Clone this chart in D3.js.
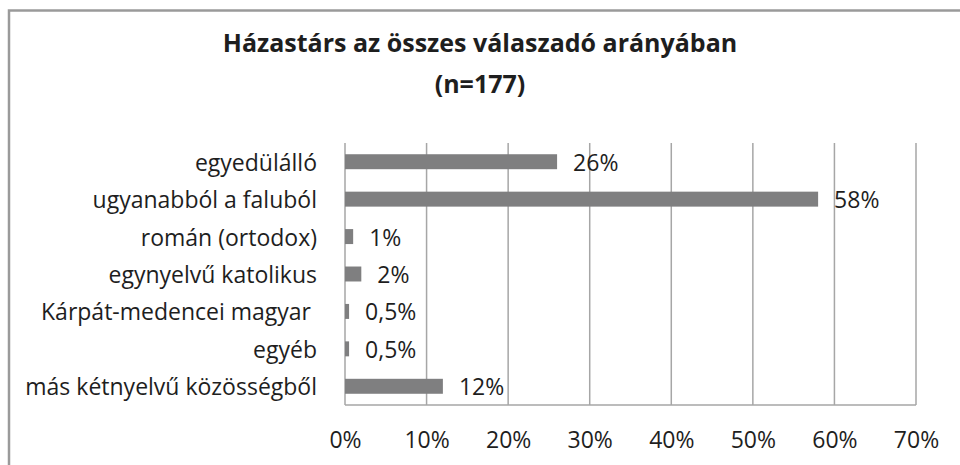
<!DOCTYPE html>
<html><head><meta charset="utf-8">
<script src="https://cdn.jsdelivr.net/npm/d3@7"></script>
<style>
body{margin:0;background:#fff;}
text{font-family:"Open Sans",sans-serif;fill:#1e1e1e;}
</style></head>
<body>
<svg id="c" width="960" height="465"></svg>
<script>
const categories = ["egyedülálló","ugyanabból a faluból","román (ortodox)","egynyelvű katolikus","Kárpát-medencei magyar\u00a0","egyéb","más kétnyelvű közösségből"];
const values = [26, 58, 1, 2, 0.5, 0.5, 12];
const valueLabels = ["26%","58%","1%","2%","0,5%","0,5%","12%"];
const tickValues = [0,10,20,30,40,50,60,70];
const titleLines = ["Házastárs az összes válaszadó arányában","(n=177)"];

(function(){
const svg = d3.select("#c");
svg.append("rect").attr("x",9).attr("y",10.5).attr("width",1000).attr("height",1000)
  .attr("fill","none").attr("stroke","#9a9a9a").attr("stroke-width",2.5);

const pL=345, pR=916, pT=143, pB=405;
const x = d3.scaleLinear().domain([0,70]).range([pL,pR]);
const y = d3.scaleBand().domain(categories).range([pT,pB]).paddingInner(0.6).paddingOuter(0.3);

svg.append("g").selectAll("line").data(tickValues).join("line")
  .attr("x1",d=>x(d)).attr("x2",d=>x(d)).attr("y1",pT).attr("y2",pB)
  .attr("stroke","#a6a6a6").attr("stroke-width",1.5);
svg.append("line").attr("x1",pL).attr("x2",pR).attr("y1",pB).attr("y2",pB)
  .attr("stroke","#a6a6a6").attr("stroke-width",1.5);

svg.append("g").selectAll("rect").data(values).join("rect")
  .attr("x",x(0)).attr("y",(d,i)=>y(categories[i]))
  .attr("width",d=>x(d)-x(0)).attr("height",y.bandwidth())
  .attr("fill","#7f7f80");

svg.append("g").selectAll("text").data(values).join("text")
  .attr("x",d=>x(d)+16).attr("y",(d,i)=>y(categories[i])+y.bandwidth()/2)
  .attr("dominant-baseline","central").attr("font-size",23)
  .text((d,i)=>valueLabels[i]);

svg.append("g").selectAll("text").data(categories).join("text")
  .attr("x",317).attr("y",d=>y(d)+y.bandwidth()/2)
  .attr("dominant-baseline","central").attr("text-anchor","end").attr("font-size",23)
  .text(d=>d);

const axis = d3.axisBottom(x).tickValues(tickValues).tickFormat(d=>d+"%").tickSize(0).tickPadding(0);
const ga = svg.append("g").attr("transform",`translate(0,${pB})`).call(axis);
ga.select(".domain").remove();
ga.selectAll("text").attr("y",35).attr("dy","0.35em").attr("font-size",23)
  .attr("font-family","Open Sans").attr("fill","#1e1e1e");

svg.append("g").selectAll("text").data(titleLines).join("text")
  .attr("x",480).attr("y",(d,i)=>52+i*41).attr("text-anchor","middle")
  .attr("font-size",25).attr("font-weight","bold").text(d=>d);
})();
</script>
</body></html>
